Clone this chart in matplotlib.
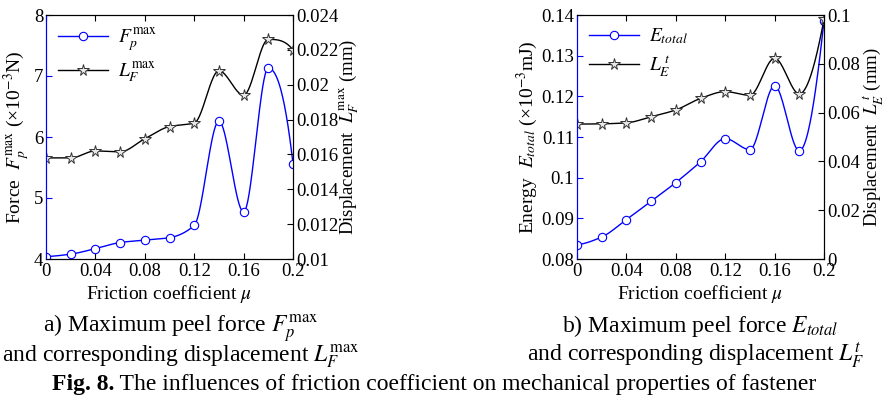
import numpy as np
import matplotlib.pyplot as plt
from matplotlib.ticker import FormatStrFormatter

plt.rcParams['font.family'] = ['Liberation Serif', 'DejaVu Serif']
plt.rcParams['mathtext.fontset'] = 'stix'

# friction coefficient
mu = [0, 0.02, 0.04, 0.06, 0.08, 0.10, 0.12, 0.14, 0.16, 0.18, 0.20]

# a) max peel force (x1e-3 N) and corresponding displacement (mm)
force_max = [4.04, 4.08, 4.17, 4.27, 4.31, 4.35, 4.55, 6.26, 4.77, 7.13, 5.56]
disp_force = [0.0158, 0.0158, 0.0162, 0.01615, 0.0169, 0.0176, 0.0178,
              0.0208, 0.0194, 0.0226, 0.0220]

# b) total energy (x1e-3 mJ) and corresponding displacement (mm)
energy_total = [0.0835, 0.0854, 0.0897, 0.0942, 0.0988, 0.1039, 0.1096,
                0.1069, 0.1226, 0.1066, 0.1386]
disp_energy = [0.0553, 0.0554, 0.0558, 0.0583, 0.0611, 0.0658, 0.0686,
               0.0671, 0.0823, 0.0677, 0.0982]


def pchip_curve(x, y, n=400):
    '''shape preserving cubic through the points (like matlab pchip), only for the drawn line'''
    x = np.asarray(x, float)
    y = np.asarray(y, float)
    h = np.diff(x)
    dl = np.diff(y) / h
    k = len(x)
    d = np.zeros(k)
    for i in range(1, k - 1):
        if dl[i - 1] * dl[i] > 0:
            w1 = 2 * h[i] + h[i - 1]
            w2 = h[i] + 2 * h[i - 1]
            d[i] = (w1 + w2) / (w1 / dl[i - 1] + w2 / dl[i])

    def end_slope(h0, h1, d0, d1):
        s = ((2 * h0 + h1) * d0 - h0 * d1) / (h0 + h1)
        if np.sign(s) != np.sign(d0):
            s = 0.0
        elif np.sign(d0) != np.sign(d1) and abs(s) > abs(3 * d0):
            s = 3 * d0
        return s

    d[0] = end_slope(h[0], h[1], dl[0], dl[1])
    d[-1] = end_slope(h[-1], h[-2], dl[-1], dl[-2])

    xs = np.linspace(x[0], x[-1], n)
    idx = np.clip(np.searchsorted(x, xs) - 1, 0, k - 2)
    hh = h[idx]
    t = (xs - x[idx]) / hh
    h00 = 2 * t ** 3 - 3 * t ** 2 + 1
    h10 = t ** 3 - 2 * t ** 2 + t
    h01 = -2 * t ** 3 + 3 * t ** 2
    h11 = t ** 3 - t ** 2
    ys = h00 * y[idx] + h10 * hh * d[idx] + h01 * y[idx + 1] + h11 * hh * d[idx + 1]
    return xs, ys


def draw_panel(rect, y1, y2, ylim1, yticks1, ylim2, yticks2, lab1, lab2, leg1, leg2):
    ax = fig.add_axes(rect)
    ax2 = ax.twinx()
    fs = 13.5

    xs, ys = pchip_curve(mu, y1)
    ax.plot(xs, ys, color='blue', lw=1.0)
    ax.plot(mu, y1, 'o', ms=6, mfc='white', mec='blue', mew=0.8)
    h1, = ax.plot([], [], '-o', color='blue', lw=1.0, ms=6, mfc='white', mec='blue', mew=0.8)

    xs, ys = pchip_curve(mu, y2)
    ax2.plot(xs, ys, color='black', lw=1.0)
    ax2.plot(mu, y2, '*', ms=8.5, mfc='#e8e8e8', mec='#333333', mew=0.7)
    h2, = ax2.plot([], [], '-*', color='black', lw=1.0, ms=8.5, mfc='#e8e8e8', mec='#333333', mew=0.7)

    ax.set_xlim(0, 0.2)
    ax.set_xticks([0, 0.04, 0.08, 0.12, 0.16, 0.2])
    ax.xaxis.set_major_formatter(FormatStrFormatter('%g'))
    ax.set_ylim(*ylim1)
    ax.set_yticks(yticks1)
    ax.yaxis.set_major_formatter(FormatStrFormatter('%g'))
    ax2.set_ylim(*ylim2)
    ax2.set_yticks(yticks2)
    ax2.yaxis.set_major_formatter(FormatStrFormatter('%g'))

    for a in (ax, ax2):
        a.tick_params(direction='in', labelsize=fs, length=4, width=0.8, pad=2)
    ax.spines['left'].set_color('blue')
    ax2.spines['left'].set_color('blue')
    ax.tick_params(axis='y', color='blue')
    ax.tick_params(axis='x', top=True, pad=3)

    ax.set_xlabel(r'Friction coefficient $\mu$', fontsize=14, labelpad=2)
    ax.set_ylabel(lab1, fontsize=14, labelpad=1)
    ax2.set_ylabel(lab2, fontsize=13.5, labelpad=0)

    ax.legend([h1, h2], [leg1, leg2], loc='upper left', frameon=False,
              fontsize=14, handlelength=2.6, borderaxespad=0.2, labelspacing=0.35,
              handletextpad=0.5)
    return ax


fig = plt.figure(figsize=(8.86, 3.96), dpi=100)

ax_a = draw_panel([46 / 886, 137 / 396, 247 / 886, 244 / 396], force_max, disp_force,
                  (4, 8), [4, 5, 6, 7, 8],
                  (0.01, 0.024), np.arange(0.010, 0.0241, 0.002),
                  r'Force  $F_p^{\rm max}$ (×10$^{-3}$N)',
                  r'Displacement  $L_F^{\rm max}$ (mm)',
                  r'$F_p^{\rm max}$', r'$L_F^{\rm max}$')

ax_b = draw_panel([577 / 886, 137 / 396, 247 / 886, 244 / 396], energy_total, disp_energy,
                  (0.08, 0.14), np.arange(0.08, 0.1401, 0.01),
                  (0, 0.1), np.arange(0, 0.1001, 0.02),
                  r'Energy  $E_{total}$ (×10$^{-3}$mJ)',
                  r'Displacement  $L_E^{\;t}$ (mm)',
                  r'$E_{total}$', r'$L_E^{\;t}$')

cap = 17
fig.text(181 / 886, 1 - 332 / 396, r'a) Maximum peel force $F_p^{\rm max}$',
         ha='center', va='baseline', fontsize=cap)
fig.text(181 / 886, 1 - 361 / 396, r'and corresponding displacement $L_F^{\rm max}$',
         ha='center', va='baseline', fontsize=cap)
fig.text(700 / 886, 1 - 332 / 396, r'b) Maximum peel force $E_{total}$',
         ha='center', va='baseline', fontsize=cap)
fig.text(696 / 886, 1 - 361 / 396, r'and corresponding displacement $L_F^{t}$',
         ha='center', va='baseline', fontsize=cap)

t1 = fig.text(52 / 886, 1 - 390 / 396, 'Fig. 8.', ha='left', va='baseline',
              fontsize=cap, fontweight='bold')
ax_a.annotate(' The influences of friction coefficient on mechanical properties of fastener',
              xy=(1, 0), xycoords=t1, ha='left', va='bottom', fontsize=cap,
              annotation_clip=False)

fig.savefig('out.png', dpi=100)
